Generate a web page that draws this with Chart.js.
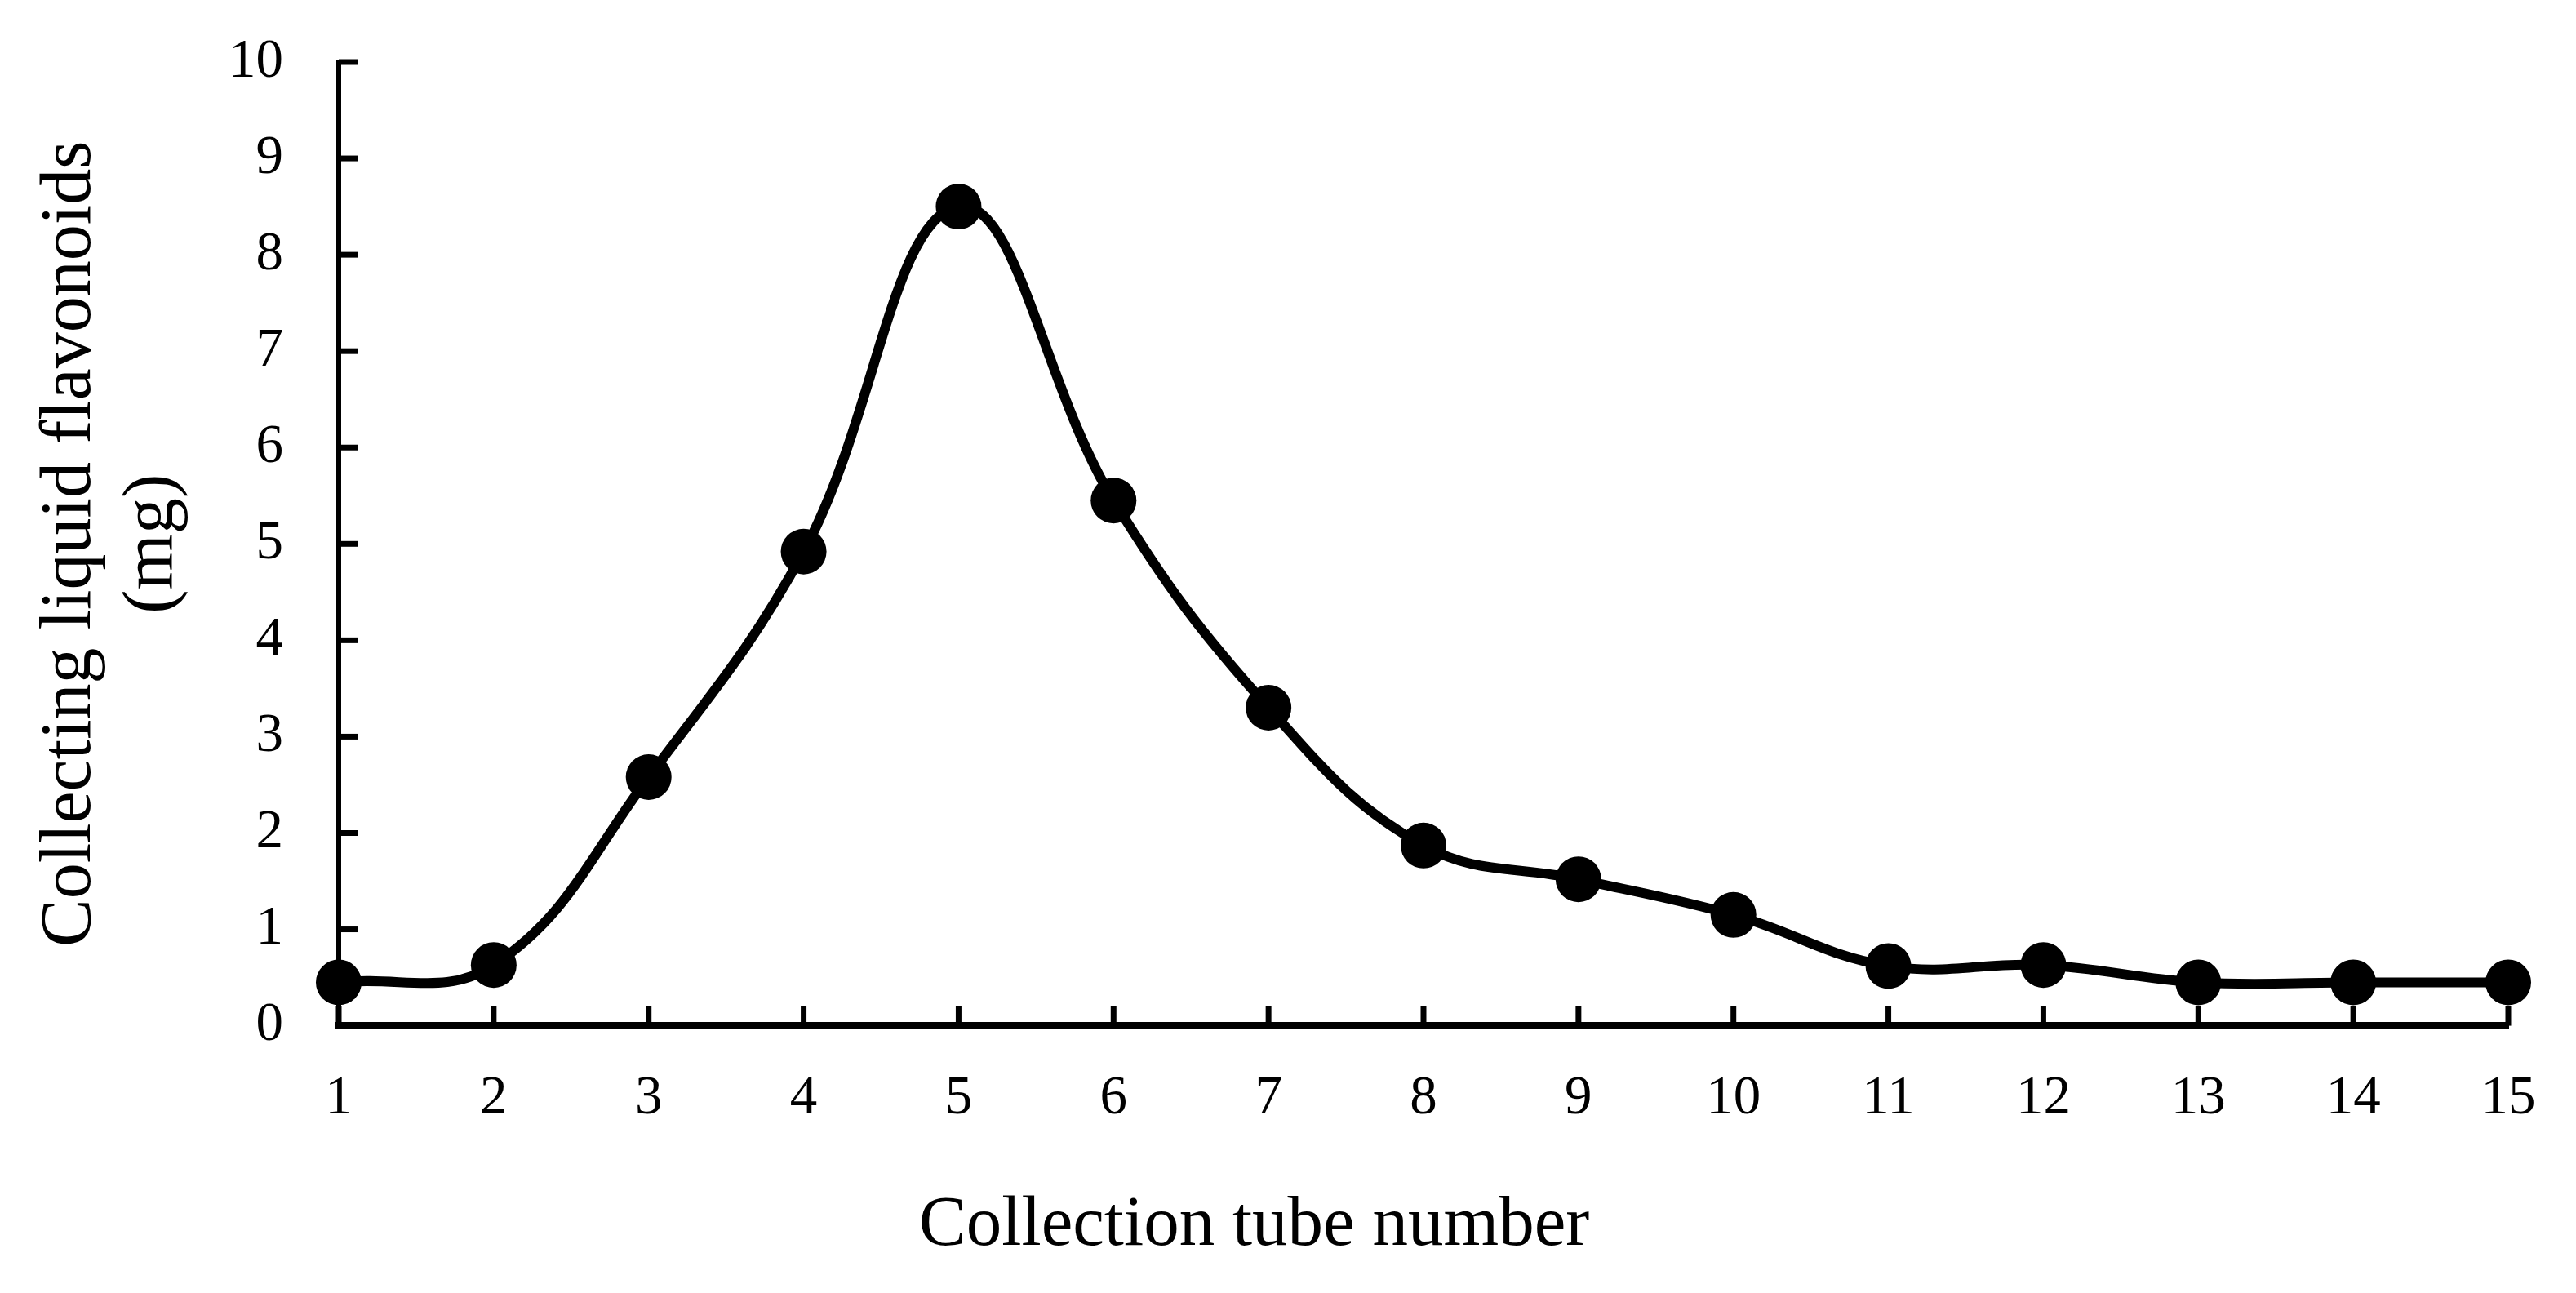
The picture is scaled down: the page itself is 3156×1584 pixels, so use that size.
<!DOCTYPE html>
<html>
<head>
<meta charset="utf-8">
<script src="https://cdn.jsdelivr.net/npm/chart.js@4/dist/chart.umd.min.js"></script>
<style>
  html, body { margin: 0; padding: 0; background: #fff; }
  #wrap { width: 3156px; height: 1584px; position: relative; }
</style>
</head>
<body>
<div id="wrap"><canvas id="grafica"></canvas></div>
<script>
const tubes = ['1', '2', '3', '4', '5', '6', '7', '8', '9', '10', '11', '12', '13', '14', '15'];
const flavonoids = [0.45, 0.63, 2.58, 4.92, 8.5, 5.45, 3.3, 1.87, 1.52, 1.15, 0.62, 0.63, 0.45, 0.45, 0.45];
const yMin = 0;
const yMax = 10;
const yStep = 1;

const serif = 'Liberation Serif';

// ticks drawn inward (inside the plot), like the original figure
const inwardTicks = {
    id: 'inwardTicks',
    beforeDatasetsDraw(chart) {
        const { ctx, chartArea, scales } = chart;
        ctx.save();
        ctx.strokeStyle = '#000';
        ctx.lineWidth = 7;
        ctx.lineCap = 'butt';
        scales.y.ticks.forEach((t, i) => {
            const y = scales.y.getPixelForTick(i);
            ctx.beginPath();
            ctx.moveTo(chartArea.left, y);
            ctx.lineTo(chartArea.left + 24, y);
            ctx.stroke();
        });
        scales.x.ticks.forEach((t, i) => {
            const x = scales.x.getPixelForTick(i);
            ctx.beginPath();
            ctx.moveTo(x, chartArea.bottom);
            ctx.lineTo(x, chartArea.bottom - 24);
            ctx.stroke();
        });
        ctx.restore();
    }
};

new Chart(document.getElementById('grafica'), {
    type: 'line',
    data: {
        labels: tubes,
        datasets: [{
            label: 'Flavonoids',
            data: flavonoids,
            borderColor: '#000',
            borderWidth: 12,
            tension: 0.4,
            fill: false,
            pointRadius: 28,
            pointBackgroundColor: '#000',
            pointBorderColor: '#000',
            pointBorderWidth: 0,
            clip: false
        }]
    },
    options: {
        responsive: true,
        maintainAspectRatio: false,
        animation: false,
        layout: {
            padding: { top: 76, right: 83, bottom: 0, left: 0 }
        },
        plugins: {
            legend: { display: false },
            tooltip: { enabled: false },
            title: {
                display: true,
                position: 'bottom',
                text: 'Collection tube number',
                color: '#000',
                font: { family: serif, size: 87, weight: 'normal', lineHeight: 1.2 },
                padding: { top: 0, bottom: 30 }
            }
        },
        scales: {
            x: {
                type: 'category',
                offset: false,
                grid: { display: true, drawOnChartArea: false, drawTicks: false },
                border: { display: true, color: '#000', width: 9 },
                ticks: {
                    color: '#000',
                    font: { family: serif, size: 67 },
                    padding: 50,
                    maxRotation: 0,
                    autoSkip: false
                },
                afterFit(scale) {
                    scale.height = 193;
                    scale.paddingLeft = 0;
                    scale.paddingRight = 0;
                }
            },
            y: {
                min: yMin,
                max: yMax,
                grid: { display: true, drawOnChartArea: false, drawTicks: false },
                border: { display: true, color: '#000', width: 6 },
                ticks: {
                    stepSize: yStep,
                    color: '#000',
                    font: { family: serif, size: 67 },
                    padding: 68
                },
                title: {
                    display: true,
                    text: ['Collecting liquid flavonoids', '(mg)'],
                    color: '#000',
                    font: { family: serif, size: 88, lineHeight: 1.15 },
                    padding: { top: 36, bottom: 0 }
                },
                afterFit(scale) {
                    scale.width = 415;
                    scale.paddingTop = 0;
                    scale.paddingBottom = 0;
                }
            }
        }
    },
    plugins: [inwardTicks]
});
</script>
</body>
</html>
